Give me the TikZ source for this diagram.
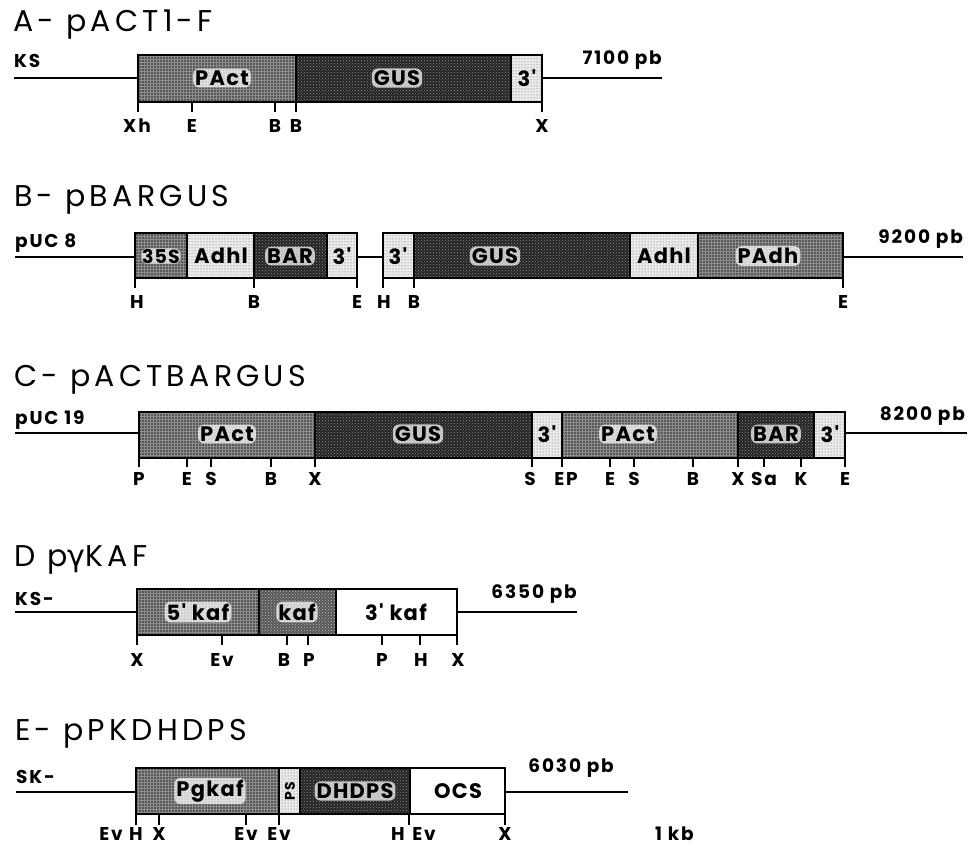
\documentclass[tikz,border=0pt]{standalone}
\usepackage{fontspec}
\setmainfont{Poppins}
\newfontfamily\titlefont[LetterSpace=14]{Poppins}
\newfontfamily\labfont[LetterSpace=10]{Poppins}
\newfontfamily\boxfont[LetterSpace=6]{Poppins}
\newfontfamily\grk{DejaVu Sans}
\usetikzlibrary{patterns}
\tikzset{
  prom/.style={fill=black!66, postaction={pattern=grid, pattern color=white!55!black}},
  cod/.style={fill=black!86, postaction={pattern=crosshatch dots, pattern color=white!55!black}},
  codlt/.style={fill=black!66, postaction={pattern=crosshatch dots, pattern color=white!75!black}},
  term/.style={fill=black!8, postaction={pattern=dots, pattern color=black!65}},
  blank/.style={fill=white},
  outline/.style={draw=black, line width=1.8pt},
  divider/.style={draw=black, line width=1.2pt},
  dna/.style={draw=black, line width=1.3pt},
  tick/.style={draw=black, line width=1.1pt},
  ttl/.style={font=\titlefont\fontsize{30}{34}\selectfont, anchor=base west, inner sep=0pt},
  sidelab/.style={font=\labfont\bfseries\fontsize{18.5}{21}\selectfont, inner sep=0pt},
  slab/.style={font=\labfont\bfseries\fontsize{18.5}{21}\selectfont, anchor=base, inner sep=0pt},
  blab/.style={font=\boxfont\bfseries\fontsize{21}{24}\selectfont, inner sep=1.5pt},
  halo/.style={blab, fill=white, fill opacity=0.72, text opacity=1, rounded corners=6pt, inner sep=2pt},
}
\newcommand\segbox[5]{\path[#1] (#2,#4) rectangle (#3,#5);}
\begin{document}
\begin{tikzpicture}[x=1pt,y=-1pt]
\useasboundingbox (0,0) rectangle (973,845);
\fill[white] (0,0) rectangle (973,845);

% ---------------- A ----------------
\node[ttl] (tA) at (13,32) {A- pACT1-F};
\node[sidelab, anchor=base west] (kA) at (14,68) {KS};
\node[sidelab, anchor=base east] (sA) at (662,65) {7100 pb};
\coordinate (A0) at (14,78); \coordinate (A1) at (138,78);
\coordinate (A2) at (542,78); \coordinate (A3) at (662,78);
\draw[dna] (A0) -- (A1); \draw[dna] (A2) -- (A3);
\segbox{prom}{138}{296}{55}{102}
\segbox{cod}{296}{511}{55}{102}
\segbox{term}{511}{542}{55}{102}
\draw[divider] (296,55) -- (296,102) (511,55) -- (511,102);
\draw[outline] (138,55) rectangle (542,102);
\node[halo] (a1) at (222,78) {PAct};
\node[halo] (a2) at (397,78) {GUS};
\node[blab] (a3) at (527,78) {3'};
\foreach \x in {138,192,275,296,542} \draw[tick] (\x,102) -- (\x,112);
\foreach \x/\l [count=\i] in {137/Xh,192/E,275/B,296/B,542/X}
  \node[slab] (rA\i) at (\x,133) {\l};

% ---------------- B ----------------
\node[ttl] (tB) at (14,206) {B- pBARGUS};
\node[sidelab, anchor=base west] (kB) at (15,247) {pUC 8};
\node[sidelab, anchor=base east] (sB) at (963,243) {9200 pb};
\coordinate (B0) at (15,257); \coordinate (B1) at (135,257);
\coordinate (B2) at (357,257); \coordinate (B3) at (383,257);
\coordinate (B4) at (843,257); \coordinate (B5) at (963,257);
\draw[dna] (B0) -- (B1); \draw[dna] (B2) -- (B3); \draw[dna] (B4) -- (B5);
\segbox{prom}{135}{187}{233}{278}
\segbox{term}{187}{254}{233}{278}
\segbox{cod}{254}{327}{233}{278}
\segbox{term}{327}{357}{233}{278}
\segbox{term}{383}{414}{233}{278}
\segbox{cod}{414}{630}{233}{278}
\segbox{term}{630}{698}{233}{278}
\segbox{prom}{698}{843}{233}{278}
\draw[divider] (187,233) -- (187,278) (254,233) -- (254,278) (327,233) -- (327,278)
  (414,233) -- (414,278) (630,233) -- (630,278) (698,233) -- (698,278);
\draw[outline] (135,233) rectangle (357,278);
\draw[outline] (383,233) rectangle (843,278);
\node[halo, inner sep=0.5pt, font=\boxfont\bfseries\fontsize{19}{22}\selectfont] (b1) at (161,256) {35S};
\node[blab] (b2) at (221,256) {Adhl};
\node[halo] (b3) at (290,256) {BAR};
\node[blab] (b4) at (342,256) {3'};
\node[blab] (b5) at (398,256) {3'};
\node[halo] (b6) at (495,256) {GUS};
\node[blab] (b7) at (664,256) {Adhl};
\node[halo] (b8) at (768,256) {PAdh};
\foreach \x in {135,254,357,383,414,843} \draw[tick] (\x,278) -- (\x,288);
\foreach \x/\l [count=\i] in {137/H,254/B,357/E,384/H,414/B,843/E}
  \node[slab] (rB\i) at (\x,308) {\l};

% ---------------- C ----------------
\node[ttl] (tC) at (14,386) {C- pACTBARGUS};
\node[sidelab, anchor=base west] (kC) at (15,424) {pUC 19};
\node[sidelab, anchor=base east] (sC) at (965,420) {8200 pb};
\coordinate (C0) at (15,433); \coordinate (C1) at (139,433);
\coordinate (C2) at (845,433); \coordinate (C3) at (967,433);
\draw[dna] (C0) -- (C1); \draw[dna] (C2) -- (C3);
\segbox{prom}{139}{315}{412}{458}
\segbox{cod}{315}{532}{412}{458}
\segbox{term}{532}{562}{412}{458}
\segbox{prom}{562}{738}{412}{458}
\segbox{cod}{738}{814}{412}{458}
\segbox{term}{814}{845}{412}{458}
\draw[divider] (315,412) -- (315,458) (532,412) -- (532,458) (562,412) -- (562,458)
  (738,412) -- (738,458) (814,412) -- (814,458);
\draw[outline] (139,412) rectangle (845,458);
\node[halo] (c1) at (227,434) {PAct};
\node[halo] (c2) at (418,434) {GUS};
\node[blab] (c3) at (547,434) {3'};
\node[halo] (c4) at (628,434) {PAct};
\node[halo] (c5) at (776,434) {BAR};
\node[blab] (c6) at (830,434) {3'};
\foreach \x in {139,187,211,271,315,532,562,610,634,693,738,764,801,845}
  \draw[tick] (\x,458) -- (\x,467);
\foreach \x/\l [count=\i] in {139/P,187/E,211/S,271/B,315/X,530/S,566/EP,610/E,634/S,693/B,738/X,764/Sa,801/K,845/E}
  \node[slab] (rC\i) at (\x,485) {\l};

% ---------------- D ----------------
\node[ttl] (tD) at (14,566) {D p{\grk γ}KAF};
\node[sidelab, anchor=base west] (kD) at (15,605) {KS-};
\node[sidelab, anchor=base east] (sD) at (577,598) {6350 pb};
\coordinate (D0) at (15,612); \coordinate (D1) at (137,612);
\coordinate (D2) at (457,612); \coordinate (D3) at (577,612);
\draw[dna] (D0) -- (D1); \draw[dna] (D2) -- (D3);
\segbox{prom}{137}{259}{589}{635}
\segbox{codlt}{259}{336}{589}{635}
\segbox{blank}{336}{457}{589}{635}
\draw[divider] (259,589) -- (259,635) (336,589) -- (336,635);
\draw[outline] (137,589) rectangle (457,635);
\node[halo] (d1) at (198,612) {5' kaf};
\node[halo] (d2) at (297,612) {kaf};
\node[blab] (d3) at (396,612) {3' kaf};
\foreach \x in {137,222,287,308,382,420,457} \draw[tick] (\x,635) -- (\x,645);
\foreach \x/\l [count=\i] in {137/X,222/Ev,284/B,309/P,382/P,421/H,458/X}
  \node[slab] (rD\i) at (\x,666) {\l};

% ---------------- E ----------------
\node[ttl] (tE) at (15,740) {E- pPKDHDPS};
\node[sidelab, anchor=base west] (kE) at (16,783) {SK-};
\node[sidelab, anchor=base east] (sE) at (614,772) {6030 pb};
\node[sidelab, anchor=base west] (kb) at (655,840) {1 kb};
\coordinate (E0) at (16,792); \coordinate (E1) at (136,792);
\coordinate (E2) at (505,792); \coordinate (E3) at (628,792);
\draw[dna] (E0) -- (E1); \draw[dna] (E2) -- (E3);
\segbox{prom}{136}{279}{768}{814}
\segbox{term}{279}{300}{768}{814}
\segbox{cod}{300}{410}{768}{814}
\segbox{blank}{410}{505}{768}{814}
\draw[divider] (279,768) -- (279,814) (300,768) -- (300,814) (410,768) -- (410,814);
\draw[outline] (136,768) rectangle (505,814);
\node[halo] (e1) at (210,791) {Pgkaf};
\node[blab, rotate=90, font=\boxfont\bfseries\fontsize{14}{16}\selectfont] (e2) at (290,791) {PS};
\node[halo] (e3) at (355,791) {DHDPS};
\node[blab] (e4) at (458,791) {OCS};
\foreach \x in {136,159,246,279,409,505} \draw[tick] (\x,814) -- (\x,825);
\foreach \x/\l [count=\i] in {111/Ev,136/H,159/X,246/Ev,279/Ev,398/H,424/Ev,505/X}
  \node[slab] (rE\i) at (\x,840) {\l};
\end{tikzpicture}
\end{document}
